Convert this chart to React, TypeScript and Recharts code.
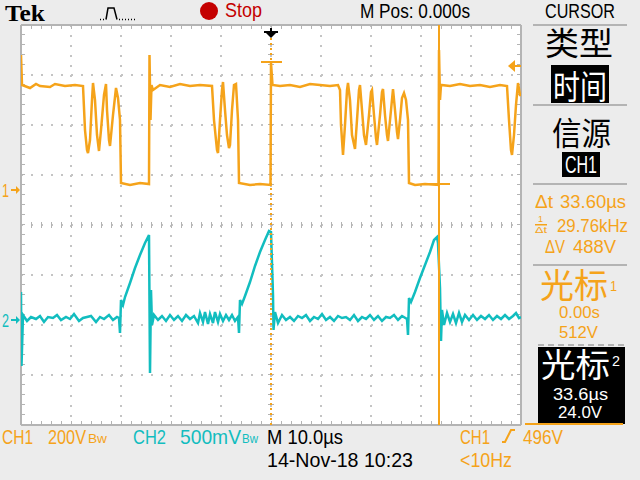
import React from 'react';
import { ComposedChart, Line, XAxis, YAxis, CartesianGrid, ReferenceLine, ReferenceDot } from 'recharts';

const ORANGE = '#f5a31a';
const CYAN = '#12bdbf';
const GRID = '#c4c4c4';
const FRAME = '#b4b4b4';
const BG = '#ececec';
const RED = '#c40000';
const SANS = "'Liberation Sans', Arial, sans-serif";
const CJK = "'Noto Sans CJK SC', 'Noto Sans CJK JP', sans-serif";

// horizontal: µs, 10 µs/div, M Pos 0.000s
const timeTicks = [-50, -40, -30, -20, -10, 0, 10, 20, 30, 40, 50];
// vertical divisions (8)
const divTicks = [-4, -3, -2, -1, 0, 1, 2, 3, 4];

// CH1 200 V/div (volts)
const ch1Time = [
  -50, -49.8, -48.2, -47, -46.2, -44.2, -43.2, -41.2, -39.2, -37.6,
  -37.2, -36.8, -36.6, -36.2, -35.8, -35.6, -35.2, -34.8, -34.4, -34, -33.4, -33, -32.8, -32.4, -32.2, -31.6, -31, -30.6, -30.2, -30,
  -28.2, -26.2, -24.4,
  -24.3, -24.1, -23.9, -23.6, -22.2, -20.2, -18.2, -16.2, -14.2, -11.8,
  -11.4, -10.8, -10.6, -10.2, -9.8, -9.6, -9.2, -8.8, -8.4, -8.2, -7.8, -7.4, -7, -6.6, -6.4,
  -4.2, -2.2, -0.1,
  0, 0.3, 1.8, 3.8, 5.8, 7.8, 9.8, 11.8, 13.4,
  13.8, 14, 14.4, 14.8, 15.2, 15.4, 15.8, 16.2, 16.8, 17.2, 17.6, 17.8, 18.2, 18.6, 19, 19.6, 20, 20.2, 20.6, 21, 21.2,
  21.8, 22.2, 22.4, 22.8, 23.2, 23.4, 24, 24.4, 24.8, 25.2, 25.4, 25.8, 26.2, 26.6, 27, 27.4, 27.6,
  28.8, 30.8, 33.5,
  33.6, 33.8, 34, 35.8, 37.8, 39.8, 41.8, 43.8, 45.8, 47.2,
  47.6, 48, 48.2, 48.6, 49, 49.4, 49.8, 50,
];
const ch1Volts = [
  540, 420, 408, 424, 416, 412, 424, 416, 420, 416,
  240, 160, 148, 200, 360, 428, 360, 220, 156, 240, 380, 424, 320, 200, 176, 300, 408, 368, 280, 28,
  20, 28, 24,
  540, 280, 420, 400, 420, 412, 424, 416, 420, 416,
  280, 160, 148, 280, 400, 432, 320, 220, 168, 180, 320, 420, 424, 280, 28,
  20, 24, 20,
  508, 420, 416, 420, 412, 424, 420, 416, 420,
  400, 260, 140, 260, 400, 428, 360, 220, 164, 280, 400, 420, 320, 220, 180, 300, 392, 400, 300, 208, 180,
  300, 392, 404, 300, 220, 196, 320, 404, 320, 232, 204, 280, 368, 388, 360, 280, 28,
  20, 24, 20,
  560, 360, 420, 416, 424, 416, 420, 412, 420, 416,
  280, 160, 140, 220, 340, 428, 380, 380,
];

// CH2 500 mV/div (volts)
const ch2Time = [
  -50, -49.9,
  -49.6, -48.8, -48, -47, -46.2, -45.4, -44.6, -43.6, -42.8, -42, -41, -40.2, -39.4, -38.4, -37.6, -36.8,
  -36, -35, -34.2, -33.4, -32.4, -31.6, -30.8, -30.4,
  -30.2, -30, -29.6, -29.2, -28.2, -27.2, -26.2, -25.2, -24.4,
  -24.2, -24, -23.8,
  -23.4, -22.6, -21.8, -21, -20.2, -19.4, -18.6, -17.8, -17, -16.2, -15.4, -14.6, -14.2, -13.6, -13.2,
  -12.6, -12.2, -11.6, -11.2, -10.6, -10.2, -9.6, -9, -8.4, -7.8, -7.2, -6.6,
  -6.4, -6.2, -5.8, -5.2, -4.2, -3.2, -2.2, -1.2, -0.4, 0,
  0.4, 0.5, 0.8, 1.4,
  2.2, 3, 3.8, 4.6, 5.4, 6.2, 7, 7.8, 8.6, 9.4, 10.2, 11, 11.8, 12.6, 13.4, 14.2, 15, 15.8, 16.6, 17.4,
  18.2, 19, 19.8, 20.6, 21.4, 22.2, 23, 23.8, 24.6, 25.4, 26.2, 27.2,
  27.4, 27.6, 28, 28.8, 29.8, 30.8, 31.8, 32.6, 33.2, 33.4,
  33.8, 34, 34.2, 34.6,
  35.2, 35.8, 36.4, 37, 37.6, 38.2, 38.8, 39.6, 40.4, 41.2, 42, 42.8, 43.6, 44.4, 45.2, 46, 46.8, 47.6,
  48.4, 49, 49.6, 50,
];
const ch2Volts = [
  0.28, -0.46,
  0.05, -0.01, 0.03, 0.01, 0.04, -0.02, 0.03, 0.02, 0.05, 0, 0.03, 0.01, 0.06, -0.01, 0.02, 0.03,
  0.04, -0.02, 0.03, 0.01, 0.05, 0, 0.03, 0.02,
  -0.13, 0.2, 0.15, 0.23, 0.37, 0.52, 0.65, 0.77, 0.85,
  -0.53, 0.3, -0.05,
  0.05, 0, 0.04, -0.01, 0.05, 0, 0.04, -0.01, 0.05, 0.01, 0.04, -0.03, 0.07, -0.02, 0.08,
  -0.04, 0.06, -0.03, 0.08, -0.02, 0.06, -0.01, 0.05, 0, 0.05, -0.01, 0.03,
  -0.13, 0.2, 0.16, 0.24, 0.38, 0.54, 0.68, 0.8, 0.89, 0.88,
  0.25, -0.1, 0.08, -0.03,
  0.05, 0, 0.03, -0.01, 0.04, 0.02, 0.05, -0.01, 0.03, 0.01, 0.06, 0, 0.03, -0.01, 0.04, 0.02, 0.03, 0, 0.05, -0.01,
  0.03, 0.01, 0.05, 0, 0.04, -0.01, 0.03, 0.02, 0.05, 0, 0.04, 0.01,
  -0.15, 0.22, 0.18, 0.28, 0.42, 0.55, 0.68, 0.8, 0.83, 0.77,
  0.32, -0.21, 0.1, -0.05,
  0.07, -0.02, 0.06, -0.03, 0.07, -0.02, 0.05, 0, 0.05, 0, 0.04, 0.01, 0.05, 0, 0.04, 0.01, 0.05, 0.01,
  0.04, 0.07, 0.02, 0.03,
];

// cursors and trigger
const cursor1 = { t: 0, v: 512 };
const cursor2 = { t: 33.6, v: 24 };
const triggerLevel = 496;

const ch1Data = ch1Time.map((t, i) => ({ t, v: ch1Volts[i] }));
const ch2Data = ch2Time.map((t, i) => ({ t, v: ch2Volts[i] }));

function Txt({ x, y, w, size = 20, fill = '#000', family = SANS, weight = 400, children }: any) {
  return (
    <text x={x} y={y} fontSize={size} fill={fill} fontFamily={family} fontWeight={weight}
      textLength={w} lengthAdjust="spacingAndGlyphs">{children}</text>
  );
}

const trigPosMarker = ({ cx, cy }: any) => (
  <g fill="#000">
    <rect x={cx - 1} y={cy + 3} width={2} height={4} />
    <rect x={cx - 7} y={cy + 6} width={14} height={2} />
    <path d={`M${cx - 5} ${cy + 8} L${cx + 5} ${cy + 8} L${cx} ${cy + 13} Z`} />
  </g>
);

const trigLevelMarker = ({ cx, cy }: any) => (
  <g fill={ORANGE}>
    <path d={`M${cx - 13} ${cy} L${cx - 6} ${cy - 6} L${cx - 6} ${cy + 6} Z`} />
    <rect x={cx - 7} y={cy - 1} width={7} height={2} />
  </g>
);

const cursorTick = ({ cx, cy }: any) => (
  <rect x={cx - 10} y={cy - 1} width={21} height={2} fill={ORANGE} />
);

const chanMarker = (label: string, color: string) => ({ cx, cy }: any) => (
  <g fill={color}>
    <text x={cx - 19} y={cy + 7} fontSize={19} fontFamily={SANS} textLength={7} lengthAdjust="spacingAndGlyphs">{label}</text>
    <rect x={cx - 10} y={cy - 1} width={6} height={2} />
    <path d={`M${cx - 5} ${cy - 4} L${cx - 1} ${cy} L${cx - 5} ${cy + 4} Z`} />
  </g>
);

export default function App() {
  return (
    <div style={{ position: 'absolute', left: 0, top: 0, width: 640, height: 480, background: BG, overflow: 'hidden' }}>
      <div style={{ position: 'absolute', left: 0, top: 0 }}>
        <ComposedChart width={640} height={480} margin={{ top: 25, right: 119, bottom: 55, left: 21 }}>
          <XAxis type="number" dataKey="t" domain={[-50, 50]} ticks={timeTicks} hide allowDataOverflow />
          <YAxis yAxisId="div" type="number" domain={[-4, 4]} ticks={divTicks} hide allowDataOverflow />
          <YAxis yAxisId="ch1" type="number" domain={[-940, 660]} hide allowDataOverflow />
          <YAxis yAxisId="ch2" type="number" domain={[-1.05, 2.95]} hide allowDataOverflow />
          <CartesianGrid yAxisId="div" fill="#ffffff" stroke={GRID} strokeWidth={2} strokeDasharray="2 8" />

          <ReferenceLine yAxisId="div" x={0} stroke={FRAME} strokeWidth={6} strokeDasharray="1 9" />
          <ReferenceLine yAxisId="div" y={0} stroke={FRAME} strokeWidth={6} strokeDasharray="1 9" />
          <ReferenceLine yAxisId="div" x={-49.6} stroke={FRAME} strokeWidth={4} strokeDasharray="1 9" />
          <ReferenceLine yAxisId="div" x={49.6} stroke={FRAME} strokeWidth={4} strokeDasharray="1 9" />
          <ReferenceLine yAxisId="div" y={3.96} stroke={FRAME} strokeWidth={4} strokeDasharray="1 9" />
          <ReferenceLine yAxisId="div" y={-3.96} stroke={FRAME} strokeWidth={4} strokeDasharray="1 9" />
          <ReferenceLine yAxisId="div" x={-50} stroke={FRAME} strokeWidth={2} />
          <ReferenceLine yAxisId="div" x={50} stroke={FRAME} strokeWidth={2} />
          <ReferenceLine yAxisId="div" y={4} stroke={FRAME} strokeWidth={2} />
          <ReferenceLine yAxisId="div" y={-4} stroke={FRAME} strokeWidth={2} />

          <Line data={ch2Data} dataKey="v" yAxisId="ch2" type="linear" stroke={CYAN} strokeWidth={2.5}
            dot={false} activeDot={false} isAnimationActive={false} />
          <Line data={ch1Data} dataKey="v" yAxisId="ch1" type="linear" stroke={ORANGE} strokeWidth={2.5}
            dot={false} activeDot={false} isAnimationActive={false} />

          <ReferenceLine yAxisId="div" x={cursor1.t} stroke={ORANGE} strokeWidth={2} strokeDasharray="2 3" />
          <ReferenceLine yAxisId="div" x={cursor2.t} stroke={ORANGE} strokeWidth={2} />
          <ReferenceDot yAxisId="ch1" x={cursor1.t} y={cursor1.v} shape={cursorTick} />
          <ReferenceDot yAxisId="ch1" x={cursor2.t} y={cursor2.v} shape={cursorTick} />
          <ReferenceDot yAxisId="div" x={0} y={4} shape={trigPosMarker} />
          <ReferenceDot yAxisId="ch1" x={50} y={triggerLevel} shape={trigLevelMarker} />
          <ReferenceDot yAxisId="ch1" x={-50} y={0} shape={chanMarker('1', ORANGE)} />
          <ReferenceDot yAxisId="ch2" x={-50} y={0} shape={chanMarker('2', CYAN)} />
        </ComposedChart>
      </div>

      <svg width={640} height={480} style={{ position: 'absolute', left: 0, top: 0, pointerEvents: 'none' }}>
        {/* header */}
        <Txt x={5} y={21} w={40} size={23} family="'Liberation Serif', serif" weight={700}>Tek</Txt>
        <line x1={100} y1={19.5} x2={106} y2={19.5} stroke="#000" strokeWidth={1.5} strokeDasharray="1 2" />
        <polyline points="106,19.5 108,8 114,8 117,19.5" fill="none" stroke="#000" strokeWidth={1.5} />
        <line x1={119} y1={19.5} x2={137} y2={19.5} stroke="#000" strokeWidth={1.5} strokeDasharray="1 2" />
        <circle cx={209} cy={11} r={9} fill={RED} />
        <Txt x={225} y={17} w={37} size={20} fill={RED}>Stop</Txt>
        <Txt x={360} y={18} w={110} size={20}>M Pos: 0.000s</Txt>
        <Txt x={545} y={18} w={70} size={20}>CURSOR</Txt>

        {/* side menu */}
        <rect x={533} y={24} width={94} height={2} fill={FRAME} />
        <Txt x={545} y={55} w={68} size={32} family={CJK}>类型</Txt>
        <rect x={551} y={65} width={58} height={38} fill="#000" />
        <Txt x={553} y={99} w={54} size={33} fill="#fff" family={CJK}>时间</Txt>
        <rect x={533} y={104} width={94} height={2} fill={FRAME} />
        <Txt x={552} y={145} w={59} size={32} family={CJK}>信源</Txt>
        <rect x={562} y={152} width={38} height={25} fill="#000" />
        <Txt x={565} y={173} w={32} size={24} fill="#fff">CH1</Txt>
        <rect x={533} y={183} width={94} height={2} fill={FRAME} />

        <Txt x={535} y={208} w={18} size={18} fill={ORANGE}>Δt</Txt>
        <Txt x={560} y={208} w={66} size={18} fill={ORANGE}>33.60µs</Txt>
        <Txt x={538} y={222} w={5} size={9} fill={ORANGE}>1</Txt>
        <rect x={535} y={224} width={12} height={1.5} fill={ORANGE} />
        <Txt x={535} y={233} w={12} size={9} fill={ORANGE}>Δt</Txt>
        <Txt x={557} y={232} w={71} size={18} fill={ORANGE}>29.76kHz</Txt>
        <Txt x={545} y={253} w={20} size={18} fill={ORANGE}>ΔV</Txt>
        <Txt x={573} y={253} w={43} size={18} fill={ORANGE}>488V</Txt>
        <rect x={533} y={264} width={94} height={2} fill={FRAME} />

        <Txt x={540} y={298} w={68} size={34} fill={ORANGE} family={CJK}>光标</Txt>
        <Txt x={610} y={291} w={7} size={14} fill={ORANGE}>1</Txt>
        <Txt x={559} y={318} w={41} size={17} fill={ORANGE}>0.00s</Txt>
        <Txt x={559} y={338} w={39} size={17} fill={ORANGE}>512V</Txt>
        <line x1={538} y1={345} x2={626} y2={345} stroke={FRAME} strokeWidth={2} strokeDasharray="6 4" />

        <rect x={538} y={347} width={87} height={77} fill="#000" />
        <rect x={525} y={423} width={98} height={2} fill={ORANGE} />
        <Txt x={541} y={377} w={69} size={33} fill="#fff" family={CJK}>光标</Txt>
        <Txt x={612} y={366} w={8} size={14} fill="#fff">2</Txt>
        <Txt x={553} y={400} w={55} size={17} fill="#fff">33.6µs</Txt>
        <Txt x={558} y={418} w={44} size={17} fill="#fff">24.0V</Txt>

        {/* status line */}
        <Txt x={2} y={444} w={31} size={21} fill={ORANGE}>CH1</Txt>
        <Txt x={48} y={444} w={38} size={21} fill={ORANGE}>200V</Txt>
        <Txt x={88} y={443} w={19} size={13} fill={ORANGE}>Bw</Txt>
        <Txt x={133} y={444} w={33} size={21} fill={CYAN}>CH2</Txt>
        <Txt x={180} y={444} w={61} size={21} fill={CYAN}>500mV</Txt>
        <Txt x={242} y={443} w={16} size={13} fill={CYAN}>Bw</Txt>
        <Txt x={267} y={444} w={76} size={21}>M 10.0µs</Txt>
        <Txt x={267} y={467} w={146} size={21}>14-Nov-18 10:23</Txt>
        <Txt x={460} y={444} w={30} size={21} fill={ORANGE}>CH1</Txt>
        <polyline points="502,442 505,442 511,430 515,430" fill="none" stroke={ORANGE} strokeWidth={2} />
        <Txt x={523} y={444} w={40} size={21} fill={ORANGE}>496V</Txt>
        <Txt x={460} y={467} w={52} size={21} fill={ORANGE}>&lt;10Hz</Txt>
      </svg>
    </div>
  );
}
